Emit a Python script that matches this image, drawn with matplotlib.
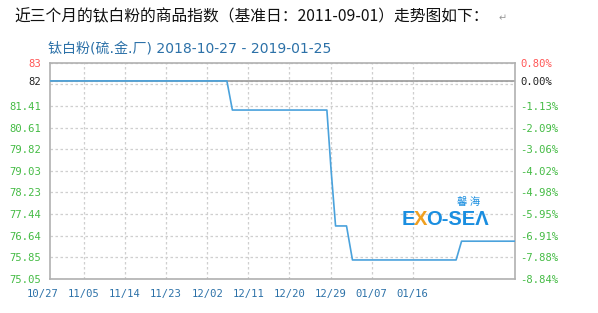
import matplotlib
matplotlib.use("Agg")
import matplotlib.pyplot as plt

# ---- data (x = days since 2018-10-27) ----
day_x = [1.45, 40.3, 41.5, 62.2, 63.1, 64.1, 66.5, 67.8, 90.5, 91.7, 103.4]
index_y = [82.33, 82.33, 81.26, 81.26, 79.1, 77.0, 77.0, 75.75, 75.75, 76.44, 76.44]
base_value = 82.33

x_tick_days = [0, 9, 18, 27, 36, 45, 54, 63, 72, 81]
x_tick_labels = ["10/27", "11/05", "11/14", "11/23", "12/02", "12/11",
                 "12/20", "12/29", "01/07", "01/16"]
y_tick_values = [75.05, 75.85, 76.64, 77.44, 78.23, 79.03, 79.82, 80.61, 81.41]
y_tick_labels = ["75.05", "75.85", "76.64", "77.44", "78.23", "79.03", "79.82", "80.61", "81.41"]
pct_labels = ["-8.84%", "-7.88%", "-6.91%", "-5.95%", "-4.98%", "-4.02%",
              "-3.06%", "-2.09%", "-1.13%"]
y_top = 83.0
extra_grid = [82.205]

title = "近三个月的钛白粉的商品指数（基准日：2011-09-01）走势图如下："
subtitle = "钛白粉(硫.金.厂) 2018-10-27 - 2019-01-25"

green = "#44bb44"
red = "#ff5555"
blue_txt = "#2c71a8"
line_c = "#4aa2dc"
grid_c = "#cfcfcf"

fig = plt.figure(figsize=(5.98, 3.13), dpi=100)
ax = fig.add_axes([0.0828, 0.1086, 0.7784, 0.6911])
ax.set_xlim(1.45, 103.4)
ax.set_ylim(75.05, y_top)

mono = "DejaVu Sans Mono"

# grid
ax.set_xticks(x_tick_days[1:])
ax.set_xticklabels([])
ax.set_yticks(y_tick_values + [base_value, y_top])
ax.set_yticklabels(y_tick_labels + ["82", "83"], fontfamily=mono, fontsize=7.6)
for lbl, c in zip(ax.get_yticklabels(), [green] * len(y_tick_values) + ["#222222", red]):
    lbl.set_color(c)
ax.set_yticks(extra_grid, minor=True)
ax.grid(True, which="both", color=grid_c, linestyle=(0, (2, 2)), linewidth=0.9)
ax.tick_params(axis="both", which="both", length=0)
ax.tick_params(axis="y", pad=6)

for s in ax.spines.values():
    s.set_color("#b0b0b0")
    s.set_linewidth(1.2)

ax.axhline(base_value, color="#9a9a9a", linewidth=1.2, zorder=2)
ax.plot(day_x, index_y, color=line_c, linewidth=1.2, zorder=3)

# x labels
for d, t in zip(x_tick_days, x_tick_labels):
    ax.text(d, -0.068, t, transform=ax.get_xaxis_transform(), ha="center", va="center",
            fontfamily=mono, fontsize=7.6, color=blue_txt, clip_on=False)

# right axis
ax2 = ax.twinx()
ax2.set_ylim(ax.get_ylim())
ax2.set_yticks(y_tick_values + [base_value, y_top])
ax2.set_yticklabels(pct_labels + ["0.00%", "0.80%"], fontfamily=mono, fontsize=7.6)
for lbl, c in zip(ax2.get_yticklabels(), [green] * len(y_tick_values) + ["#222222", red]):
    lbl.set_color(c)
ax2.tick_params(axis="y", length=0, pad=4)
for s in ax2.spines.values():
    s.set_visible(False)

# watermark logo
logo_font = "Liberation Sans"
fig.text(401.5, 313 - 219.5, "E", transform=None, fontsize=14.5, fontweight="bold",
         color="#1a8ee0", va="center", ha="left", family=logo_font)
fig.text(413.5, 313 - 219.5, "X", transform=None, fontsize=14.5, fontweight="bold",
         color="#f0a020", va="center", ha="left", family=logo_font)
fig.text(426, 313 - 219.5, "O-SEΛ", transform=None, fontsize=14.5, fontweight="bold",
         color="#1a8ee0", va="center", ha="left", family=logo_font)
fig.text(457, 313 - 202, "馨 海", transform=None, fontsize=7.5,
         color="#1a8ee0", va="center", ha="left", family="Noto Sans CJK SC")

# titles
fig.text(14 / 598, 1 - 17 / 313, title, fontsize=11.35, color="#111111", va="center", ha="left",
         family=["Noto Sans CJK SC", "DejaVu Sans"])
fig.text(499 / 598, 1 - 18 / 313, "↵", fontsize=7, color="#999999", va="center", ha="left",
         family=["DejaVu Sans"])
fig.text(48 / 598, 1 - 48 / 313, subtitle, fontsize=10.1, color=blue_txt, va="center", ha="left",
         family=["DejaVu Sans", "Noto Sans CJK SC"])

fig.savefig("out.png", dpi=100)
